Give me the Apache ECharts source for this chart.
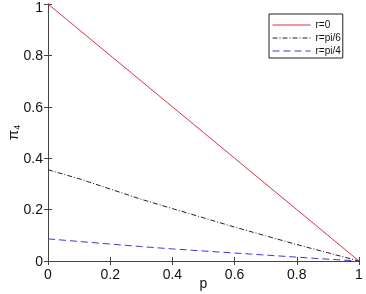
<!DOCTYPE html>
<html>
<head>
<meta charset="utf-8">
<script src="https://cdn.jsdelivr.net/npm/echarts@6/dist/echarts.min.js"></script>
<style>
  html, body { margin: 0; padding: 0; background: #fff; }
  #chart { width: 366px; height: 294px; }
</style>
</head>
<body>
<div id="chart"></div>
<script>
var pValues = [0, 0.1, 0.2, 0.3, 0.4, 0.5, 0.6, 0.7, 0.8, 0.9, 1];
var r0 = [1, 0.9, 0.8, 0.7, 0.6, 0.5, 0.4, 0.3, 0.2, 0.1, 0];
var rPi6 = [0.355, 0.32, 0.28, 0.24, 0.204, 0.168, 0.132, 0.098, 0.064, 0.032, 0];
var rPi4 = [0.086, 0.076, 0.066, 0.056, 0.047, 0.039, 0.031, 0.023, 0.015, 0.007, 0];
var seriesNames = ['r=0', 'r=pi/6', 'r=pi/4'];

var pairs = function (ys) {
  return pValues.map(function (p, i) { return [p, ys[i]]; });
};

var axisColor = '#444';
var fontFam = 'Liberation Sans, Arial, sans-serif';
var labelFont = { color: '#111', fontSize: 14, fontFamily: fontFam };

var myChart = echarts.init(document.getElementById('chart'));
var option = {
  animation: false,
  grid: { left: 48, top: 4, right: 7, bottom: 33, containLabel: false, outerBoundsMode: 'none' },
  legend: {
    data: seriesNames,
    orient: 'vertical',
    left: 269,
    top: 14,
    itemWidth: 38,
    itemHeight: 12,
    itemGap: 3,
    padding: [6, 2, 2, 3],
    backgroundColor: '#fff',
    borderColor: '#222',
    borderWidth: 1,
    borderRadius: 0,
    itemStyle: { opacity: 0 },
    lineStyle: { width: 1 },
    textStyle: { color: '#111', fontSize: 10, fontFamily: fontFam }
  },
  xAxis: [{
    type: 'value', min: 0, max: 1, interval: 0.2,
    name: 'p', nameLocation: 'middle', nameGap: 16, nameMoveOverlap: false,
    nameTextStyle: labelFont,
    axisLine: { lineStyle: { color: axisColor } },
    axisTick: { inside: true, length: 4, lineStyle: { color: axisColor } },
    axisLabel: Object.assign({ margin: 7 }, labelFont),
    splitLine: { show: false }
  }, {
    type: 'value', min: 0, max: 1, interval: 0.2, position: 'top',
    axisLine: { show: true, lineStyle: { color: axisColor } },
    axisTick: { inside: true, length: 4, lineStyle: { color: axisColor } },
    axisLabel: { show: false },
    splitLine: { show: false }
  }],
  yAxis: [{
    type: 'value', min: 0, max: 1, interval: 0.2,
    name: '{a|π}{b|4}', nameLocation: 'middle', nameGap: 26, nameMoveOverlap: false,
    nameTextStyle: {
      rich: {
        a: { fontSize: 15, color: '#111', fontFamily: fontFam },
        b: { fontSize: 9, color: '#111', fontFamily: fontFam, padding: [8, 0, 0, 0] }
      }
    },
    axisLine: { show: true, lineStyle: { color: axisColor } },
    axisTick: { show: true, inside: true, length: 4, lineStyle: { color: axisColor } },
    axisLabel: Object.assign({
      margin: 5,
      formatter: function (v) { return v === 1 ? '{top|1}' : '{n|' + v + '}'; },
      rich: {
        top: { fontSize: 14, color: '#111', fontFamily: fontFam, padding: [8, 0, 0, 0] },
        n: { fontSize: 14, color: '#111', fontFamily: fontFam, padding: [2, 0, 0, 0] }
      }
    }, labelFont),
    splitLine: { show: false }
  }, {
    type: 'value', min: 0, max: 1, interval: 0.2, position: 'right',
    axisLine: { show: true, lineStyle: { color: axisColor } },
    axisTick: { show: true, inside: true, length: 4, lineStyle: { color: axisColor } },
    axisLabel: { show: false },
    splitLine: { show: false }
  }],
  series: [{
    name: seriesNames[0], type: 'line', symbol: 'none',
    color: '#d8304a',
    lineStyle: { width: 1, color: '#d8304a' },
    data: pairs(r0)
  }, {
    name: seriesNames[1], type: 'line', symbol: 'none',
    color: '#222',
    lineStyle: { width: 1, color: '#222', type: [5, 2, 1, 2] },
    data: pairs(rPi6)
  }, {
    name: seriesNames[2], type: 'line', symbol: 'none',
    color: '#3a3ad0',
    lineStyle: { width: 1, color: '#3a3ad0', type: [7, 4] },
    data: pairs(rPi4)
  }]
};
myChart.setOption(option);
</script>
</body>
</html>
